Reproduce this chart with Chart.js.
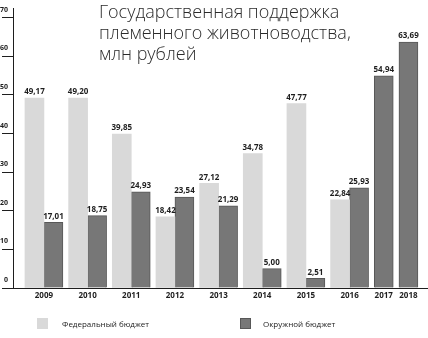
<!DOCTYPE html>
<html lang="ru">
<head>
<meta charset="utf-8">
<script src="https://cdn.jsdelivr.net/npm/chart.js@4/dist/chart.umd.min.js"></script>
<style>
  html, body { margin: 0; padding: 0; background: #fff; }
  #wrap { position: relative; width: 428px; height: 338px; overflow: hidden; }
  #chart { position: absolute; left: 0; top: 0; }
  .title {
    position: absolute; left: 99px; top: 1px;
    font-family: "Open Sans", "Noto Sans", sans-serif; font-weight: 300;
    font-size: 18px; line-height: 21px; color: #2a2a2a; white-space: nowrap;
  }
  .legend-item { position: absolute; top: 318px; height: 11px; display: flex; align-items: center; }
  .legend-box { width: 11px; height: 11px; box-sizing: border-box; }
  .legend-text {
    position: absolute; white-space: nowrap;
    font-family: "Open Sans", "Noto Sans", sans-serif; font-size: 8px; color: #222;
  }
</style>
</head>
<body>
<div id="wrap">
  <canvas id="chart" width="428" height="338"></canvas>
  <div class="title">Государственная поддержка<br>племенного животноводства,<br>млн рублей</div>
  <div class="legend-item" style="left:37px"><div class="legend-box" id="lb0"></div><span class="legend-text" style="left:25px" id="lt0"></span></div>
  <div class="legend-item" style="left:240px"><div class="legend-box" id="lb1"></div><span class="legend-text" style="left:23px" id="lt1"></span></div>
</div>
<script>
// Years on the horizontal axis
const years = ['2009', '2010', '2011', '2012', '2013', '2014', '2015', '2016', '2017', '2018'];
// Federal budget, mln rubles (no federal funding in 2017–2018)
const federal = [49.17, 49.20, 39.85, 18.42, 27.12, 34.78, 47.77, 22.84, null, null];
// District (okrug) budget, mln rubles
const okrug = [17.01, 18.75, 24.93, 23.54, 21.29, 5.00, 2.51, 25.93, 54.94, 63.69];
// Value axis ticks
const yTicks = [0, 10, 20, 30, 40, 50, 60, 70];
const seriesNames = ['Федеральный бюджет', 'Окружной бюджет'];

const COLORS = { fed: '#d9d9d9', fedBorder: '#d2d2d2', ok: '#777777', okBorder: '#575757', ink: '#1e1e1e' };

// Lay the bars out slot by slot: one unit per bar, a small gap between years,
// years without a federal value take a single slot.
const GAP = 0.3;
const fedPts = [], okPts = [], groupCenters = [];
let cursor = 0;
years.forEach((yr, i) => {
  const centers = [];
  if (federal[i] != null) { fedPts.push({ x: cursor + 0.5, y: federal[i] }); centers.push(cursor + 0.5); cursor += 1; }
  if (okrug[i] != null) { okPts.push({ x: cursor + 0.5, y: okrug[i] }); centers.push(cursor + 0.5); cursor += 1; }
  groupCenters.push(centers.reduce((a, b) => a + b, 0) / centers.length);
  cursor += GAP;
});

document.getElementById('lb0').style.background = COLORS.fed;
document.getElementById('lb1').style.background = COLORS.ok;
document.getElementById('lb1').style.border = '1px solid ' + COLORS.okBorder;
document.getElementById('lt0').textContent = seriesNames[0];
document.getElementById('lt1').textContent = seriesNames[1];

const fmt = v => v.toFixed(2).replace('.', ',');

// Value labels above each bar
const valueLabels = {
  id: 'valueLabels',
  afterDatasetsDraw(chart) {
    const ctx = chart.ctx;
    ctx.save();
    ctx.font = 'bold 8px "Open Sans", "Noto Sans", sans-serif';
    ctx.fillStyle = COLORS.ink;
    ctx.textAlign = 'center';
    ctx.textBaseline = 'bottom';
    chart.data.datasets.forEach((ds, di) => {
      chart.getDatasetMeta(di).data.forEach((el, j) => {
        ctx.fillText(fmt(ds.data[j].y), el.x, el.y - 2);
      });
    });
    ctx.restore();
  }
};

new Chart(document.getElementById('chart'), {
  type: 'bar',
  data: {
    datasets: [
      { label: seriesNames[0], data: fedPts, backgroundColor: COLORS.fed, borderColor: COLORS.fedBorder, borderWidth: 0 },
      { label: seriesNames[1], data: okPts, backgroundColor: COLORS.ok, borderColor: COLORS.okBorder, borderWidth: 1 }
    ]
  },
  options: {
    responsive: false,
    animation: false,
    devicePixelRatio: 1,
    layout: { padding: { top: 8, left: 0, right: 0, bottom: 0 } },
    datasets: { bar: { grouped: false, barPercentage: 1, categoryPercentage: 1 } },
    plugins: { legend: { display: false }, title: { display: false }, tooltip: { enabled: false } },
    scales: {
      x: {
        type: 'linear',
        offset: false,
        bounds: 'data',
        min: -0.63,
        max: cursor - GAP + 0.53,
        afterBuildTicks: s => { s.ticks = groupCenters.map(v => ({ value: v })); },
        afterFit: s => { s.height = 50; },
        grid: { display: false, drawTicks: false, offset: false },
        border: { display: true, color: COLORS.ink, width: 1 },
        ticks: {
          autoSkip: false, maxRotation: 0, padding: 3,
          color: COLORS.ink,
          font: { family: '"Open Sans", "Noto Sans", sans-serif', size: 8, weight: 'bold' },
          callback: (v, i) => years[i]
        }
      },
      y: {
        min: 0,
        max: 72.5,
        afterBuildTicks: s => { s.ticks = yTicks.map(v => ({ value: v })); },
        afterFit: s => { s.width = 13; },
        grid: { display: true, drawOnChartArea: false, drawTicks: true, tickLength: 11, color: COLORS.ink, lineWidth: 1 },
        border: { display: true, color: COLORS.ink, width: 1 },
        ticks: {
          padding: -6, labelOffset: -8,
          color: COLORS.ink,
          font: { family: '"Open Sans", "Noto Sans", sans-serif', size: 7, weight: 'bold' }
        }
      }
    }
  },
  plugins: [valueLabels]
});
</script>
</body>
</html>
